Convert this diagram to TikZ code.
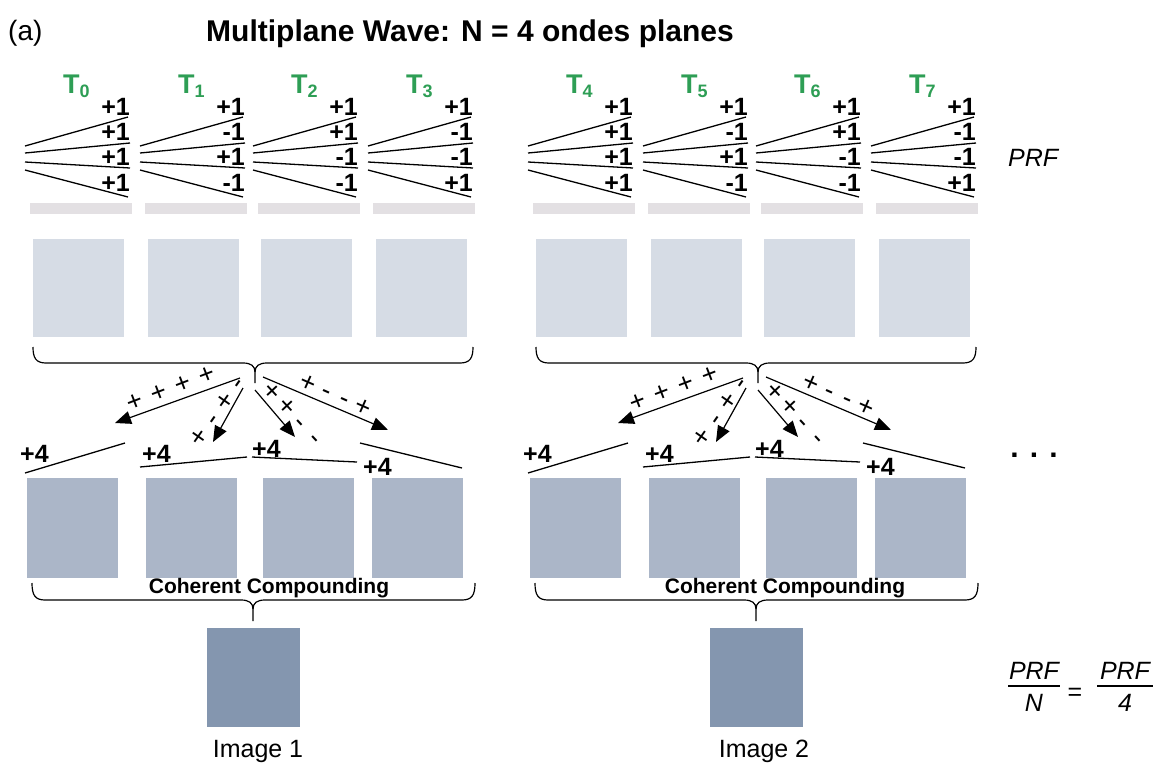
\documentclass[tikz,border=0pt]{standalone}
\usepackage{fontspec}
\setmainfont{Liberation Sans}
\usetikzlibrary{arrows.meta,calc}
\definecolor{grn}{HTML}{2E9E55}
\definecolor{barc}{HTML}{E3E0E3}
\definecolor{lightsq}{HTML}{D6DCE5}
\definecolor{midsq}{HTML}{ABB6C8}
\definecolor{darksq}{HTML}{8496AF}
\newcommand{\sgnrow}[5]{\makebox[#1pt]{#2}\makebox[#1pt]{#3}\makebox[#1pt]{#4}\makebox[#1pt]{#5}}
\begin{document}
\begin{tikzpicture}[x=1pt,y=-1pt,
  fanline/.style={line width=1.3pt},
  brc/.style={line width=1.2pt, line join=round},
  arr/.style={line width=1.2pt, -{Triangle[length=16pt,width=13pt]}},
  lbl/.style={inner sep=0pt, font=\fontsize{25}{25}\selectfont\bfseries},
  sgn/.style={inner sep=0pt, font=\fontsize{27}{27}\selectfont},
  tlab/.style={inner sep=0pt, text=grn, font=\fontsize{27}{27}\selectfont\bfseries},
  plain/.style={inner sep=0pt},
]
\useasboundingbox (0,0) rectangle (1165,764);

\node[plain, anchor=base west, font=\fontsize{28}{28}\selectfont] (tag) at (8,40) {(a)};
\node[plain, anchor=base, font=\fontsize{30}{30}\selectfont\bfseries] (title) at (470,41) {Multiplane Wave: N = 4 ondes planes};

\foreach \g/\gx/\cc/\im in {0/0/269/258, 1/503/282/261}{
\begin{scope}[xshift=\gx pt]
  % fans
  \foreach \k/\xa/\sa/\sb/\sc/\sd in {0/25/+1/+1/+1/+1,1/140/+1/-1/+1/-1,2/253/+1/+1/-1/-1,3/368/+1/-1/-1/+1}{
    \pgfmathtruncatemacro\idx{\g*4+\k}
    \node[tlab, anchor=base west] (T\idx) at (\xa+38,93) {T\raisebox{-4pt}{\fontsize{18}{18}\selectfont\idx}};
    \draw[fanline] (\xa,146) -- (\xa+103,117);
    \draw[fanline] (\xa,153) -- (\xa+105,143);
    \draw[fanline] (\xa,162) -- (\xa+105,168);
    \draw[fanline] (\xa,170) -- (\xa+103,197);
    \node[lbl, anchor=base east] (pa\idx) at (\xa+105,115) {\sa};
    \node[lbl, anchor=base east] (pb\idx) at (\xa+105,140) {\sb};
    \node[lbl, anchor=base east] (pc\idx) at (\xa+105,165) {\sc};
    \node[lbl, anchor=base east] (pd\idx) at (\xa+105,191) {\sd};
    \fill[barc] (\xa+5,203) rectangle (\xa+107,214);
    \fill[lightsq] (\xa+8,239) rectangle (\xa+99,337);
  }
  % top brace
  \coordinate (bt\g) at (255,383);
  \draw[brc] (33,347) .. controls (33,358) and (36,363) .. (46,363) -- (243,363)
     .. controls (251,363) and (255,366) .. (255,372) -- (bt\g);
  \draw[brc] (473,347) .. controls (473,358) and (470,363) .. (460,363) -- (267,363)
     .. controls (259,363) and (255,366) .. (255,372);
  % arrows
  \coordinate (sa\g) at (240,378); \coordinate (ea\g) at (115,423);
  \coordinate (sb\g) at (243,388); \coordinate (eb\g) at (213,442);
  \coordinate (sc\g) at (255,390); \coordinate (ec\g) at (295,437);
  \coordinate (sd\g) at (263,377); \coordinate (ed\g) at (388,430);
  \draw[arr] (sa\g) -- (ea\g);
  \draw[arr] (sb\g) -- (eb\g);
  \draw[arr] (sc\g) -- (ec\g);
  \draw[arr] (sd\g) -- (ed\g);
  \node[sgn, rotate=21] (la\g) at (171,389) {\sgnrow{25.7}{+}{+}{+}{+}};
  \node[sgn, rotate=55] (lb\g) at (219,410.5) {\sgnrow{22.3}{+}{-}{+}{-}};
  \node[sgn, rotate=-47] (lc\g) at (293.5,415) {\sgnrow{21}{+}{+}{-}{-}};
  \node[sgn, rotate=-24] (ld\g) at (335.5,395.5) {\sgnrow{20.1}{+}{-}{-}{+}};
  % +4 row
  \node[lbl, anchor=base west] (fa\g) at (20,462) {+4};
  \node[lbl, anchor=base west] (fb\g) at (142,462) {+4};
  \node[lbl, anchor=base west] (fc\g) at (252,457) {+4};
  \node[lbl, anchor=base west] (fd\g) at (363,475) {+4};
  \draw[fanline] (25,473) -- (125,443);
  \draw[fanline] (140,467) -- (247,457);
  \draw[fanline] (252,457) -- (357,462);
  \draw[fanline] (360,443) -- (462,468);
  \foreach \xs in {27,146,263,372}
    \fill[midsq] (\xs,478) rectangle (\xs+91,578);
  % bottom brace
  \node[plain, anchor=base, font=\fontsize{21}{21}\selectfont\bfseries] (cc\g) at (\cc,593) {Coherent Compounding};
  \coordinate (bb\g) at (253,621);
  \draw[brc] (32,583) .. controls (32,595) and (35,600) .. (45,600) -- (241,600)
     .. controls (249,600) and (253,603) .. (253,609) -- (bb\g);
  \draw[brc] (475,583) .. controls (475,595) and (472,600) .. (462,600) -- (265,600)
     .. controls (257,600) and (253,603) .. (253,609);
  \fill[darksq] (207,628) rectangle (300,727);
  \pgfmathtruncatemacro\imn{\g+1}
  \node[plain, anchor=base, font=\fontsize{25}{25}\selectfont] (img\g) at (\im,757) {Image \imn};
\end{scope}
}

\node[plain, anchor=base west, font=\fontsize{25}{25}\selectfont\itshape] (prf) at (1008,166) {PRF};
\node[plain, font=\fontsize{30}{30}\selectfont\bfseries] (dots) at (1034,455) {. . .};

\node[plain, anchor=base, font=\fontsize{25}{25}\selectfont\itshape] (n1) at (1034,679) {PRF};
\node[plain, anchor=base, font=\fontsize{25}{25}\selectfont\itshape] (d1) at (1034,711) {N};
\draw[line width=1.2pt] (1008,686) -- (1060,686);
\node[plain, font=\fontsize{25}{25}\selectfont] (eq) at (1075,694) {=};
\node[plain, anchor=base, font=\fontsize{25}{25}\selectfont\itshape] (n2) at (1125,679) {PRF};
\node[plain, anchor=base, font=\fontsize{25}{25}\selectfont\itshape] (d2) at (1125,711) {4};
\draw[line width=1.2pt] (1097,686) -- (1153,686);
\end{tikzpicture}
\end{document}
